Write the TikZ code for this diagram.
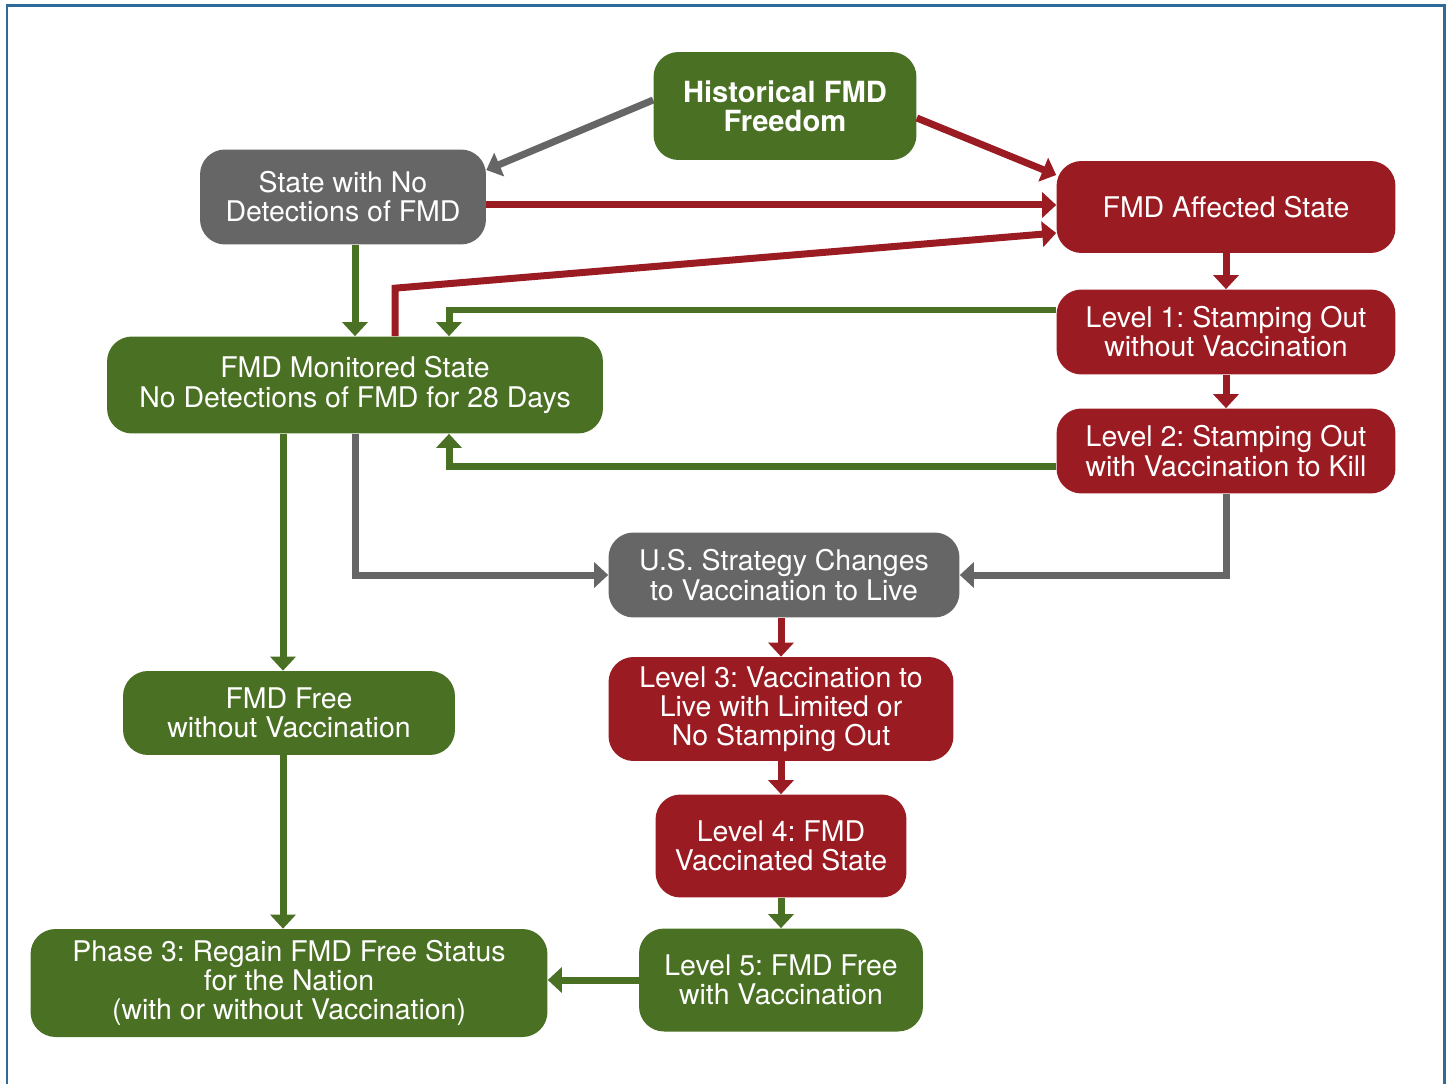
\documentclass[tikz,border=0pt]{standalone}
\usepackage{fontspec}
\setmainfont{TeX Gyre Heros}
\usetikzlibrary{arrows.meta, calc}
\frenchspacing

\definecolor{fmdgreen}{RGB}{74,112,35}
\definecolor{fmdred}{RGB}{154,27,34}
\definecolor{fmdgray}{RGB}{102,102,102}
\definecolor{frameblue}{RGB}{46,106,154}

\begin{document}
\begin{tikzpicture}[
        x=0.02cm, y=-0.02cm,
        statebox/.style={rectangle, rounded corners=0.5cm, text=white, align=center, inner sep=0pt, font=\fontsize{16.2}{16.6}\selectfont},
        greenbox/.style={statebox, fill=fmdgreen},
        redbox/.style={statebox, fill=fmdred},
        graybox/.style={statebox, fill=fmdgray},
        arr/.style={-{Triangle[width=0.5cm, length=0.28cm]}, line width=0.14cm},
    ]
        \useasboundingbox (0,0) rectangle (1449,1084);
        % Frame
        \draw[frameblue, line width=0.06cm] (7,1120) -- (7,6) -- (1444,6) -- (1444,1120);

        % Top row
        \node[greenbox, minimum width=5.26cm, minimum height=2.16cm, font=\fontsize{16.6}{16.6}\selectfont\bfseries] (hist) at (785,106) {Historical FMD\\Freedom};
        \node[graybox, minimum width=5.72cm, minimum height=1.9cm] (nodet) at (343,197) {State with No\\Detections of FMD};
        \node[redbox, minimum width=6.78cm, minimum height=1.84cm] (affected) at (1226,207) {FMD Affected State};

        % Stamping out levels
        \node[redbox, minimum width=6.78cm, minimum height=1.7cm] (lvl1) at (1226,332) {Level 1: Stamping Out\\without Vaccination};
        \node[redbox, minimum width=6.78cm, minimum height=1.7cm] (lvl2) at (1226,451) {Level 2: Stamping Out\\with Vaccination to Kill};

        % Monitored state
        \node[greenbox, minimum width=9.92cm, minimum height=1.94cm] (monitored) at (355,385) {FMD Monitored State\\No Detections of FMD for 28 Days};

        % Vaccination to live
        \node[graybox, minimum width=7.02cm, minimum height=1.7cm] (strategy) at (784,575) {U.S. Strategy Changes\\to Vaccination to Live};
        \node[redbox, minimum width=6.9cm, minimum height=2.08cm] (lvl3) at (781,709) {Level 3: Vaccination to\\Live with Limited or\\No Stamping Out};
        \node[redbox, minimum width=5.02cm, minimum height=2.06cm] (lvl4) at (781,846) {Level 4: FMD\\Vaccinated State};
        \node[greenbox, minimum width=5.68cm, minimum height=2.06cm] (lvl5) at (781,980) {Level 5: FMD Free\\with Vaccination};

        % Free status
        \node[greenbox, minimum width=6.64cm, minimum height=1.68cm] (free) at (289,713) {FMD Free\\without Vaccination};
        \node[greenbox, minimum width=10.34cm, minimum height=2.16cm] (phase3) at (289,983) {Phase 3: Regain FMD Free Status\\for the Nation\\(with or without Vaccination)};

        % Arrows from the top
        \draw[arr, fmdgray] ($(hist.west)+(0,-6)$) -- ($(nodet.east)+(0,-27)$);
        \draw[arr, fmdred] ($(hist.east)+(0,12)$) -- ($(affected.west)+(0,-32)$);
        \draw[arr, fmdred] ($(nodet.east)+(0,8)$) -- ($(affected.west)+(0,-2)$);
        \draw[arr, fmdred] ($(monitored.north)+(40,0)$) -- ++(0,-48) -- ($(affected.west)+(0,26)$);
        \draw[arr, fmdgreen] (nodet.south -| monitored.north) -- (monitored.north);

        % Right column
        \draw[arr, fmdred] (affected.south) -- (lvl1.north);
        \draw[arr, fmdred] (lvl1.south) -- (lvl2.north);
        \draw[arr, fmdgreen] ($(lvl1.west)+(0,-22)$) -| ($(monitored.north)+(94,0)$);
        \draw[arr, fmdgreen] ($(lvl2.west)+(0,15)$) -| ($(monitored.south)+(94,0)$);

        % Into the strategy change
        \draw[arr, fmdgray] (monitored.south) |- (strategy.west);
        \draw[arr, fmdgray] (lvl2.south) |- (strategy.east);

        % Middle column
        \draw[arr, fmdred] (strategy.south -| lvl3.north) -- (lvl3.north);
        \draw[arr, fmdred] (lvl3.south) -- (lvl4.north);
        \draw[arr, fmdgreen] (lvl4.south) -- (lvl5.north);
        \draw[arr, fmdgreen] (lvl5.west) -- (lvl5.west -| phase3.east);

        % Left column
        \draw[arr, fmdgreen] ($(monitored.south)+(-72,0)$) -- ($(free.north)+(-6,0)$);
        \draw[arr, fmdgreen] ($(free.south)+(-6,0)$) -- ($(phase3.north)+(-6,0)$);
    \end{tikzpicture}
\end{document}
